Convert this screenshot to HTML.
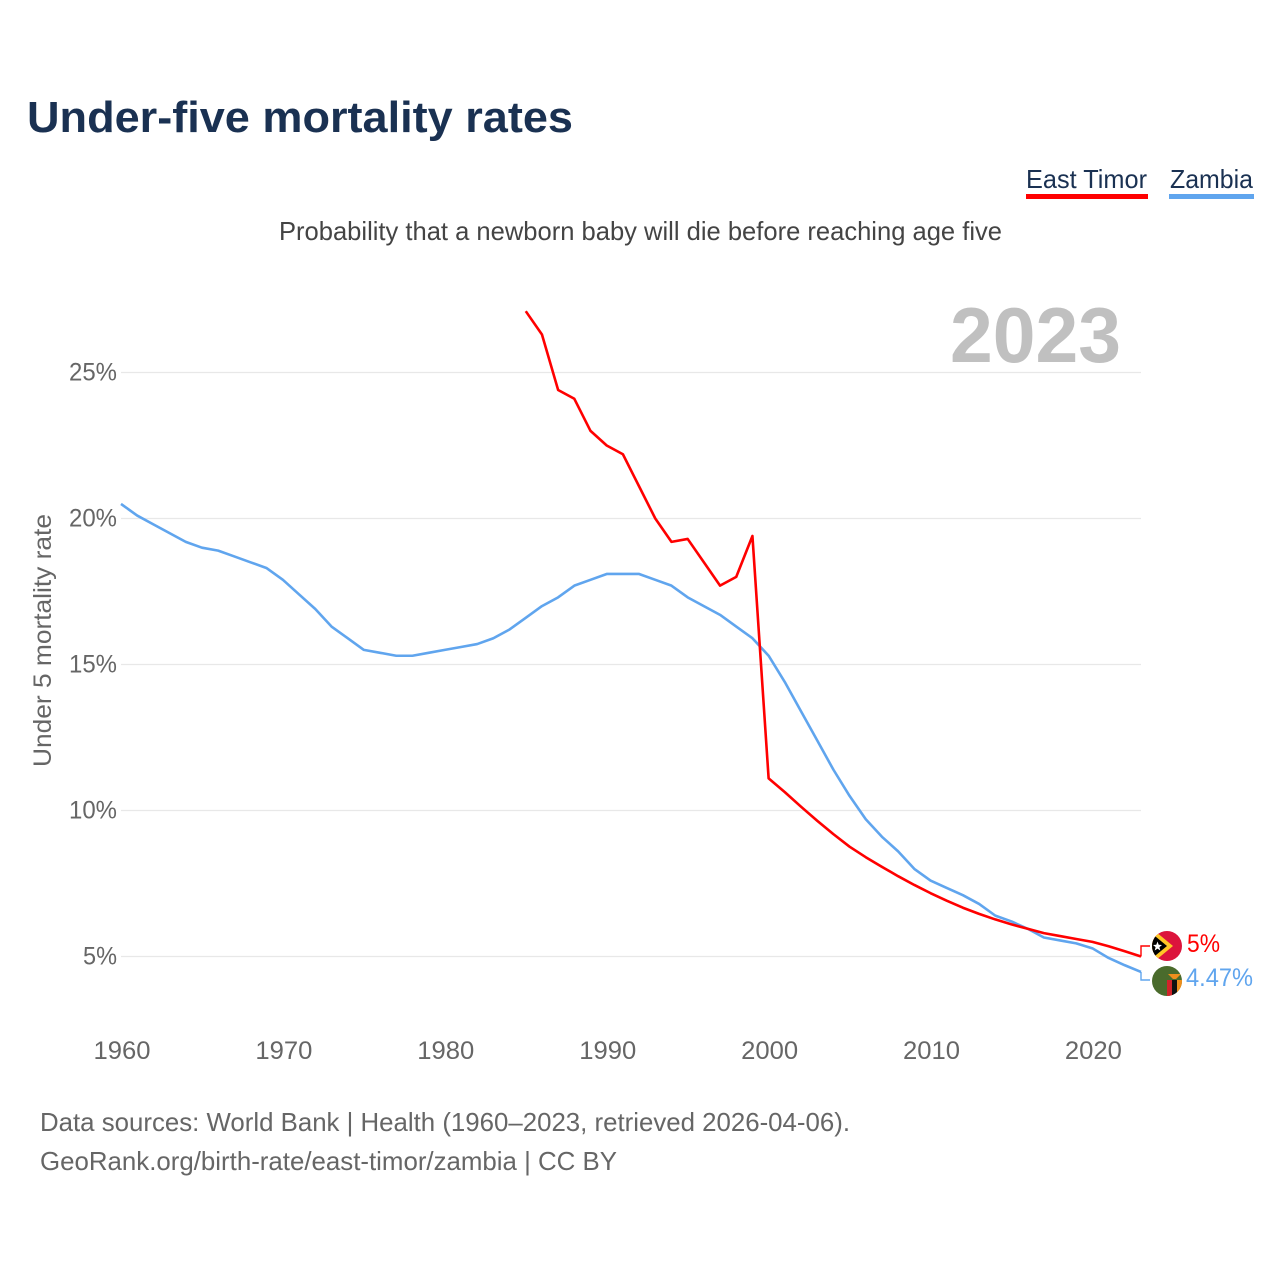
<!DOCTYPE html>
<html lang="en">
<head>
<meta charset="utf-8">
<title>Under-five mortality rates</title>
<style>
html,body{margin:0;padding:0;background:#fff;width:1280px;height:1280px;overflow:hidden}
svg{display:block}
text{font-family:"Liberation Sans",sans-serif}
</style>
</head>
<body>
<svg id="chart" xmlns="http://www.w3.org/2000/svg" width="1280" height="1280" viewBox="0 0 1280 1280">
  <defs>
    <clipPath id="clip-tl"><circle cx="1167" cy="946" r="15"/></clipPath>
    <clipPath id="clip-zm"><circle cx="1167" cy="981" r="15"/></clipPath>
  </defs>
  <rect width="1280" height="1280" fill="#fff"/>
  <text x="27" y="132" font-size="44" font-weight="700" fill="#1a3152" textLength="546" lengthAdjust="spacingAndGlyphs">Under-five mortality rates</text>

  <g>
    <text x="1026" y="188" font-size="26" fill="#1a3152" textLength="121" lengthAdjust="spacingAndGlyphs">East Timor</text>
    <rect x="1026" y="194" width="122" height="5" fill="#ff0000"/>
  </g>
  <g>
    <text x="1170" y="188" font-size="26" fill="#1a3152" textLength="83" lengthAdjust="spacingAndGlyphs">Zambia</text>
    <rect x="1169" y="194" width="85" height="5" fill="#60a5ee"/>
  </g>

  <text x="279" y="240" font-size="26" fill="#444" textLength="723" lengthAdjust="spacingAndGlyphs">Probability that a newborn baby will die before reaching age five</text>
  <text x="950" y="362" font-size="78" font-weight="700" fill="#c0c0c0" textLength="171" lengthAdjust="spacingAndGlyphs">2023</text>
  <text transform="translate(51,767) rotate(-90)" font-size="25" fill="#666" textLength="253" lengthAdjust="spacingAndGlyphs">Under 5 mortality rate</text>

  <g id="grid"></g>
  <g id="yticks"></g>
  <g id="xticks"></g>
  <g id="series"></g>

  <g clip-path="url(#clip-tl)">
    <rect x="1152" y="931" width="30" height="30" fill="#dc143c"/>
    <polygon points="1150,927 1173,946 1150,965" fill="#ffc726"/>
    <polygon points="1150,932 1167,946 1150,960" fill="#000"/>
    <polygon points="1157.5,941.5 1158.7,944.8 1162,945 1159.4,947.1 1160.3,950.5 1157.5,948.6 1154.7,950.5 1155.6,947.1 1153,945 1156.3,944.8" fill="#fff"/>
  </g>
  <g clip-path="url(#clip-zm)">
    <rect x="1152" y="966" width="30" height="30" fill="#4a6b2c"/>
    <rect x="1167" y="980" width="5" height="16" fill="#d2232a"/>
    <rect x="1172" y="980" width="5" height="16" fill="#111"/>
    <rect x="1177" y="980" width="5" height="16" fill="#ef8f1d"/>
    <polygon points="1168,974 1181,974 1176,979 1173,979" fill="#ef8f1d"/>
  </g>
  <text x="1187" y="952" font-size="25" fill="#ff0000" textLength="33" lengthAdjust="spacingAndGlyphs">5%</text>
  <text x="1186" y="986" font-size="25" fill="#60a5ee" textLength="67" lengthAdjust="spacingAndGlyphs">4.47%</text>

  <text x="40" y="1131" font-size="26" fill="#666" textLength="810" lengthAdjust="spacingAndGlyphs">Data sources: World Bank | Health (1960–2023, retrieved 2026-04-06).</text>
  <a><text x="40" y="1170" font-size="26" fill="#666" textLength="577" lengthAdjust="spacingAndGlyphs">GeoRank.org/birth-rate/east-timor/zambia | CC BY</text></a>
</svg>
<script>
const years = [1960,1961,1962,1963,1964,1965,1966,1967,1968,1969,1970,1971,1972,1973,1974,1975,1976,1977,1978,1979,1980,1981,1982,1983,1984,1985,1986,1987,1988,1989,1990,1991,1992,1993,1994,1995,1996,1997,1998,1999,2000,2001,2002,2003,2004,2005,2006,2007,2008,2009,2010,2011,2012,2013,2014,2015,2016,2017,2018,2019,2020,2021,2022,2023];
const zambiaValues = [20.5,20.1,19.8,19.5,19.2,19.0,18.9,18.7,18.5,18.3,17.9,17.4,16.9,16.3,15.9,15.5,15.4,15.3,15.3,15.4,15.5,15.6,15.7,15.9,16.2,16.6,17.0,17.3,17.7,17.9,18.1,18.1,18.1,17.9,17.7,17.3,17.0,16.7,16.3,15.9,15.3,14.4,13.4,12.4,11.4,10.5,9.7,9.1,8.6,8.0,7.6,7.35,7.1,6.8,6.4,6.2,5.95,5.65,5.55,5.45,5.28,4.95,4.7,4.47];
const eastTimorValues = [null,null,null,null,null,null,null,null,null,null,null,null,null,null,null,null,null,null,null,null,null,null,null,null,null,27.1,26.3,24.4,24.1,23.0,22.5,22.2,21.1,20.0,19.2,19.3,18.5,17.7,18.0,19.4,11.1,10.63,10.13,9.65,9.19,8.76,8.4,8.07,7.75,7.45,7.17,6.91,6.67,6.46,6.27,6.1,5.95,5.8,5.7,5.6,5.5,5.35,5.18,5.0];
const yTickValues = [5,10,15,20,25];
const yTickLabels = ["5%","10%","15%","20%","25%"];
const xTickValues = [1960,1970,1980,1990,2000,2010,2020];
const xTickLabels = ["1960","1970","1980","1990","2000","2010","2020"];

const NS = "http://www.w3.org/2000/svg";
function xScale(year){ return 121 + (year - 1960) * (1020 / 63); }
function yScale(value){ return 956.5 - (value - 5) * 29.2; }
function linePoints(values){
  const pts = [];
  values.forEach(function(v, i){
    if (v !== null) pts.push(xScale(years[i]).toFixed(2) + "," + yScale(v).toFixed(2));
  });
  return pts;
}
function lastValue(values){ return values[values.length - 1]; }

const grid = document.getElementById("grid");
const yticks = document.getElementById("yticks");
yTickValues.forEach(function(v, i){
  const line = document.createElementNS(NS, "line");
  
  
  line.setAttribute("x1", 121);
  line.setAttribute("x2", 1141);
  line.setAttribute("y1", yScale(v));
  line.setAttribute("y2", yScale(v));
  line.setAttribute("stroke", "#e8e8e8");
  line.setAttribute("stroke-width", "1.3");
  grid.appendChild(line);
  const label = document.createElementNS(NS, "text");
  
  
  label.setAttribute("x", 117);
  label.setAttribute("y", yScale(v) + 8);
  label.setAttribute("text-anchor", "end");
  label.setAttribute("font-size", "25");
  label.setAttribute("fill", "#666");
  label.setAttribute("textLength", yTickLabels[i].length === 2 ? 34 : 48);
  label.setAttribute("lengthAdjust", "spacingAndGlyphs");
  label.textContent = yTickLabels[i];
  yticks.appendChild(label);
});

const xticks = document.getElementById("xticks");
xTickValues.forEach(function(v, i){
  const label = document.createElementNS(NS, "text");
  
  
  label.setAttribute("x", xScale(v) + 1);
  label.setAttribute("y", 1059);
  label.setAttribute("text-anchor", "middle");
  label.setAttribute("font-size", "25");
  label.setAttribute("fill", "#666");
  label.setAttribute("textLength", 57);
  label.setAttribute("lengthAdjust", "spacingAndGlyphs");
  label.textContent = xTickLabels[i];
  xticks.appendChild(label);
});

const series = document.getElementById("series");

const zambiaLine = document.createElementNS(NS, "polyline");


zambiaLine.setAttribute("points", linePoints(zambiaValues).join(" "));
zambiaLine.setAttribute("fill", "none");
zambiaLine.setAttribute("stroke", "#60a5ee");
zambiaLine.setAttribute("stroke-width", "2.6");
zambiaLine.setAttribute("stroke-linejoin", "round");
series.appendChild(zambiaLine);

const timorLine = document.createElementNS(NS, "polyline");


timorLine.setAttribute("points", linePoints(eastTimorValues).join(" "));
timorLine.setAttribute("fill", "none");
timorLine.setAttribute("stroke", "#ff0000");
timorLine.setAttribute("stroke-width", "2.6");
timorLine.setAttribute("stroke-linejoin", "round");
series.appendChild(timorLine);

const endX = xScale(years[years.length - 1]);

const timorConnector = document.createElementNS(NS, "polyline");


timorConnector.setAttribute("points", endX + "," + yScale(lastValue(eastTimorValues)) + " " + endX + ",946 1150,946");
timorConnector.setAttribute("fill", "none");
timorConnector.setAttribute("stroke", "#ff0000");
timorConnector.setAttribute("stroke-width", "1.4");
series.appendChild(timorConnector);

const zambiaConnector = document.createElementNS(NS, "polyline");


zambiaConnector.setAttribute("points", endX + "," + yScale(lastValue(zambiaValues)) + " " + endX + ",980 1150,980");
zambiaConnector.setAttribute("fill", "none");
zambiaConnector.setAttribute("stroke", "#60a5ee");
zambiaConnector.setAttribute("stroke-width", "1.4");
series.appendChild(zambiaConnector);
</script>
</body>
</html>
